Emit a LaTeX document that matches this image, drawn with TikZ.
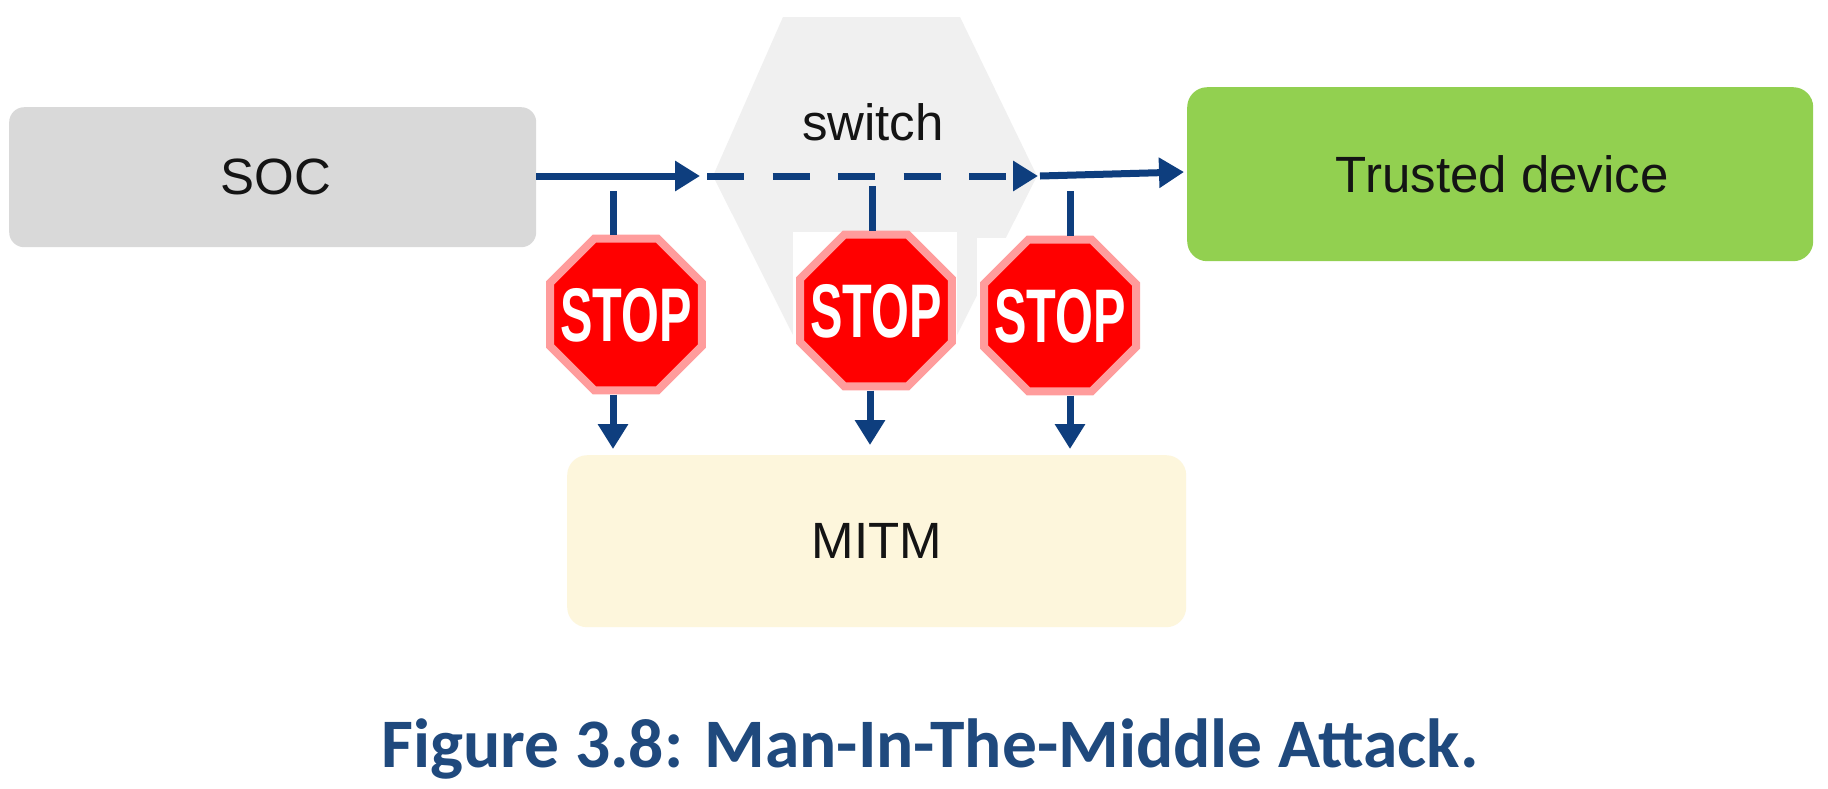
\documentclass[tikz,border=0pt]{standalone}
\usepackage{fontspec}
\setmainfont{Liberation Sans}
\newfontfamily\capfont{Carlito}
\usetikzlibrary{shapes.geometric,arrows.meta}
\definecolor{navy}{HTML}{0E3E7E}
\definecolor{socgray}{HTML}{D9D9D9}
\definecolor{trustgreen}{HTML}{92D050}
\definecolor{mitmcream}{HTML}{FDF6DC}
\definecolor{hexgray}{HTML}{F0F0F0}
\definecolor{stoppink}{HTML}{FF9C9C}
\definecolor{capblue}{HTML}{1F497D}
\tikzset{
  x=1pt,y=-1pt,
  label text/.style={font=\fontsize{51}{60}\selectfont,text=black!92},
  boxnode/.style={label text,rounded corners=20pt,inner sep=0pt,anchor=north west},
  flow/.style={draw=navy,line width=7pt,-{Triangle[length=25pt,width=29pt]}},
  stub/.style={draw=navy,line width=7pt},
  stopsign/.style={regular polygon,regular polygon sides=8,minimum size=164.5pt,inner sep=0pt,
    fill=red,draw=stoppink,line width=8pt,text=white,
    font=\fontsize{76}{80}\selectfont\bfseries},
}
\newcommand{\stoptext}{\smash{\makebox[0pt]{\raisebox{-27pt}{\scalebox{0.64}[1]{STOP}}}}}
\begin{document}
\begin{tikzpicture}
\useasboundingbox (0,0) rectangle (1828,788);
\fill[white] (0,0) rectangle (1828,788);
% switch hexagon
\fill[hexgray] (783,17) -- (960,17) -- (1037,176) -- (957,335) -- (793,335) -- (713,176) -- cycle;
\fill[white] (793,232) rectangle (957,345);
\fill[white] (977,238) rectangle (1045,345);
\node[label text] (switch) at (873,122) {switch};
% boxes
\node[boxnode,fill=socgray,minimum width=527pt,minimum height=140pt,rounded corners=15pt] (soc) at (9,107) {\hspace*{6pt}\raisebox{-2pt}{SOC}};
\node[boxnode,fill=trustgreen,minimum width=626pt,minimum height=174pt] (trusted) at (1187,87) {\hspace*{4pt}\raisebox{-2pt}{Trusted device}};
\node[boxnode,fill=mitmcream,minimum width=619pt,minimum height=172pt] (mitm) at (567,455) {\raisebox{-2pt}{MITM}};
% stop signs
\node[stopsign] (stopa) at (626,314.5) {\stoptext};
\node[stopsign] (stopb) at (876,310.5) {\stoptext};
\node[stopsign] (stopc) at (1060,315.5) {\stoptext};
% junction coordinates
\coordinate (flowa) at (700,176);
\coordinate (dashstart) at (707,176);
\coordinate (flowb) at (1038,176);
\coordinate (flowc) at (1040,176);
\coordinate (flowd) at (1184,172);
\coordinate (ta) at (613,191);
\coordinate (tb) at (872,186);
\coordinate (tc) at (1070,191);
\coordinate (ba) at (613,449);
\coordinate (bb) at (870,445);
\coordinate (bc) at (1070,449);
% main flow
\draw[flow] (soc.east |- flowa) -- (flowa);
\draw[flow,dash pattern=on 37pt off 28.5pt] (dashstart) -- (flowb);
\draw[flow] (flowc) -- (flowd);
% stubs to the signs
\draw[stub] (ta) -- (ta |- stopa.north);
\draw[stub] (tb) -- (tb |- stopb.north);
\draw[stub] (tc) -- (tc |- stopc.north);
% arrows to MITM
\draw[flow] (ba |- stopa.south) -- (ba);
\draw[flow] (bb |- stopb.south) -- (bb);
\draw[flow] (bc |- stopc.south) -- (bc);
% caption
\node[font=\capfont\bfseries\fontsize{69.5}{80}\selectfont,text=capblue] (caption) at (930,749) {Figure 3.8: Man-In-The-Middle Attack.};
\end{tikzpicture}
\end{document}
